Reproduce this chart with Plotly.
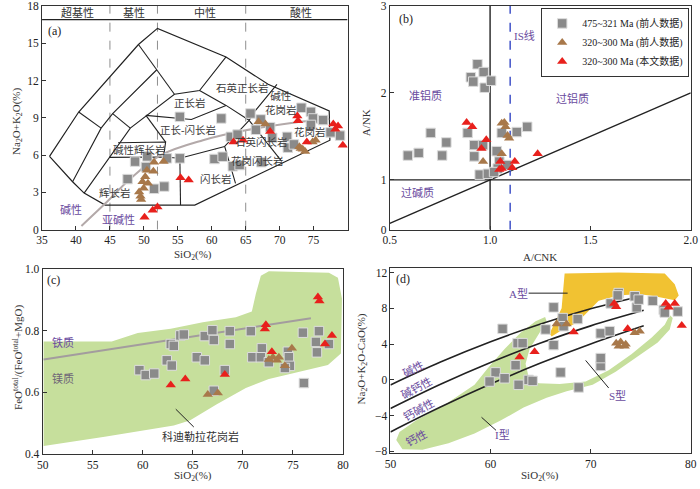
import plotly.graph_objects as go

SERIF = "Liberation Serif, 'Noto Sans CJK SC', serif"
PURPLE = "#6a4b9e"
GRAY_M = "#8a8a8a"
BROWN = "#a8784a"
RED = "#e8201c"

# ---------------- Panel (a) TAS data ----------------
a_sq_x = [48.7, 47.6, 50.5, 50.3, 51.5, 53.0, 53.4, 55.3, 55.3, 61.4, 60.4, 61.6, 63.1, 64.1, 62.8, 63.8,
          65.7, 66.5, 67.2, 68.6, 68.9, 71.1, 71.2, 72.1, 67.3, 73.2, 74.6, 74.9, 74.6, 76.4, 77.5, 78.9]
a_sq_y = [5.48, 4.07, 5.90, 5.04, 3.29, 3.47, 5.74, 5.74, 9.08, 8.95, 5.69, 5.87, 5.10, 5.20, 7.47, 7.65,
          9.35, 8.04, 8.87, 8.25, 7.39, 7.47, 6.60, 6.86, 5.43, 9.81, 9.48, 8.95, 8.43, 8.82, 7.83, 7.57]
a_bt_x = [51.5, 51.4, 50.45, 50.2, 49.8, 50.6, 49.97, 49.3, 49.5, 49.6, 52.9, 66.9, 67.9, 72.9, 73.4, 73.75, 74.85, 75.3, 73.1]
a_bt_y = [5.43, 4.70, 4.78, 4.26, 3.86, 3.73, 3.34, 3.03, 2.69, 2.43, 5.48, 8.69, 8.50, 6.68, 6.47, 6.29, 7.05, 7.20, 6.53]
a_rt_x = [50.1, 51.3, 52.0, 55.4, 56.6, 63.2, 64.6, 68.6, 72.6, 72.7, 74.0, 77.9, 78.2, 78.6, 79.3]
a_rt_y = [0.99, 1.57, 1.83, 4.18, 3.99, 7.05, 7.20, 7.91, 9.14, 8.77, 7.05, 8.51, 8.09, 8.35, 6.79]

# TAS field boundaries
tas_outer_x = [36.1, 40.4, 49.2, 52.0, 62.1, 68.3, 77.3, 77.4, 57.5, 44.3, 41.2, 39.5, 36.1]
tas_outer_y = [5.9, 9.47, 14.9, 16.2, 13.9, 11.7, 9.55, 7.2, 1.98, 1.98, 2.94, 3.86, 5.9]
tas_inner = [
    [(40.4, 9.47), (43.7, 8.17)],
    [(39.5, 3.86), (43.7, 8.17), (45.4, 9.34), (51.9, 12.87)],
    [(45.4, 9.34), (48.0, 8.17)],
    [(49.2, 14.9), (51.9, 12.87), (54.5, 10.9)],
    [(41.2, 2.94), (44.9, 5.82), (48.0, 8.17), (54.5, 10.9), (58.2, 11.2), (62.1, 13.9)],
    [(50.3, 9.2), (57.0, 8.87), (62.1, 10.0)],
    [(58.2, 11.2), (62.1, 10.0), (65.5, 8.8)],
    [(69.6, 11.7), (66.3, 9.5), (65.5, 8.8), (61.9, 6.7), (63.5, 3.73)],
    [(65.5, 8.8), (70.3, 5.5)],
    [(44.9, 5.82), (52.9, 5.85), (55.3, 5.75), (61.9, 6.7)],
    [(55.4, 1.98), (55.3, 5.75)],
    [(46.2, 7.0), (53.2, 7.05), (52.9, 5.85)],
    [(53.2, 7.05), (50.3, 9.2)],
]
ir_x = [40.8, 44.3, 48.0, 52.5, 58.7, 65.0, 72.0, 77.3]
ir_y = [0.3, 2.1, 4.1, 6.0, 7.2, 8.0, 8.6, 8.9]
a_dash_x = [45, 52, 65]
a_header = [("超基性", 40.2), ("基性", 48.6), ("中性", 59.0), ("酸性", 73.2)]
a_fields = [("石英正长岩", 64.5, 11.4), ("碱性<br>花岗岩", 70.2, 10.2), ("正长岩", 56.8, 10.2),
            ("正长-闪长岩", 56.5, 8.0), ("碱性辉长岩", 49.3, 6.45), ("辉长岩", 45.8, 2.95),
            ("闪长岩", 60.6, 4.1), ("花岗岩", 74.4, 7.9), ("石英闪长岩", 67.3, 7.05), ("花岗闪长岩", 66.8, 5.5)]

# ---------------- Panel (b) A/NK vs A/CNK ----------------
b_sq_x = [0.59, 0.644, 0.704, 0.761, 0.782, 0.888, 0.921, 0.921, 0.937, 0.904, 0.916, 0.968, 0.973, 1.005,
          0.948, 0.989, 1.033, 1.058, 1.046, 1.084, 1.133, 1.185, 0.965, 1.038, 1.02]
b_sq_y = [1.28, 1.31, 1.54, 1.28, 1.43, 1.54, 1.40, 1.27, 2.33, 2.18, 2.13, 2.24, 2.06, 2.14,
          1.06, 1.07, 1.33, 1.54, 1.21, 1.17, 1.55, 1.61, 1.40, 1.13, 1.09]
b_bt_x = [1.058, 1.071, 1.077, 1.087, 1.095, 0.965, 1.058]
b_bt_y = [1.65, 1.66, 1.61, 1.51, 1.48, 1.21, 1.30]
b_rt_x = [0.883, 0.911, 0.981, 0.957, 1.051, 1.058, 1.046, 1.110, 1.123, 1.237]
b_rt_y = [1.66, 1.61, 1.46, 1.36, 1.21, 1.13, 1.12, 1.14, 1.21, 1.30]
b_diag = [0.5, 2.0]

# ---------------- Panel (c) Fe-number ----------------
c_field_x = [50.1, 56.2, 63.1, 64.7, 67.4, 70.3, 72.6, 75.9, 78.5, 79.8, 79.9, 79.5, 78.6, 72.6, 71.8, 71.3,
             70.9, 69.3, 66.0, 62.8, 59.5, 56.9, 50.1, 50.1]
c_field_y = [0.425, 0.455, 0.492, 0.508, 0.561, 0.614, 0.643, 0.668, 0.689, 0.726, 0.905, 0.973, 0.989, 0.994,
             0.979, 0.921, 0.863, 0.844, 0.828, 0.807, 0.793, 0.765, 0.765, 0.425]
c_trend_x = [50.1, 76.8]
c_trend_y = [0.707, 0.841]
c_sq_x = [59.67, 60.3, 61.15, 62.4, 62.8, 62.9, 63.1, 63.76, 64.1, 65.4, 66.2, 66.2, 66.96, 67.1, 67.1, 68.2,
          68.7, 68.7, 70.8, 70.95, 71.9, 71.8, 72.6, 74.5, 74.6, 74.7, 74.2, 76.0, 76.1, 77.3, 77.4, 77.6, 78.6]
c_sq_y = [0.672, 0.656, 0.661, 0.704, 0.757, 0.687, 0.751, 0.785, 0.788, 0.714, 0.704, 0.783, 0.802, 0.770, 0.605, 0.672,
          0.799, 0.757, 0.799, 0.714, 0.743, 0.714, 0.698, 0.732, 0.714, 0.686, 0.679, 0.794, 0.630, 0.764, 0.730, 0.799, 0.757]
c_bt_x = [66.5, 67.5, 72.6, 73.0, 73.4, 73.6, 74.2, 74.9]
c_bt_y = [0.593, 0.598, 0.707, 0.714, 0.704, 0.714, 0.686, 0.743]
c_rt_x = [62.8, 64.25, 68.2, 72.2, 72.3, 72.9, 77.5, 77.65, 78.2, 78.9]
c_rt_y = [0.624, 0.643, 0.658, 0.806, 0.820, 0.732, 0.910, 0.897, 0.757, 0.785]

# ---------------- Panel (d) MALI ----------------
d_A_x = [67.4, 72.8, 77.4, 78.4, 78.8, 78.4, 76.4, 74.8, 72.8, 70.8, 69.4, 68.55, 67.1, 66.1, 65.9, 66.4, 67.1, 67.25, 67.4]
d_A_y = [11.89, 12.0, 11.9, 10.7, 9.45, 8.9, 9.35, 9.6, 9.45, 8.84, 7.27, 6.36, 5.56, 4.84, 5.2, 6.36, 8.0, 10.0, 11.89]
d_I_x = [50.58, 50.9, 52.55, 55.5, 58.4, 59.7, 61.4, 63.0, 64.5, 65.45, 65.6, 64.8, 63.9, 63.5, 63.8, 64.8, 66.9,
         69.5, 71.8, 74.1, 76.1, 77.4, 77.9, 78.2, 77.9, 76.7, 74.8, 72.5, 70.2, 67.6, 65.6, 63.3, 61.0, 58.4,
         55.8, 53.2, 51.2, 50.58]
d_I_y = [-6.73, -5.82, -4.55, -2.73, -0.55, 1.27, 3.45, 5.27, 6.55, 7.02, 6.55, 5.09, 3.45, 1.82, 0.36, -0.36, -0.47,
         -0.18, 1.09, 2.91, 4.73, 6.18, 7.27, 6.91, 5.64, 4.18, 2.73, 0.91, -0.55, -1.27, -2.0, -3.09, -4.55, -6.0,
         -7.09, -7.82, -7.75, -6.73]
d_line_x = [50, 55, 60, 65, 70, 75.3]
d_line1_y = [-0.56, 2.0, 4.27, 6.25, 7.95, 9.44]
d_line2_y = [-3.2, -0.49, 1.95, 4.12, 6.04, 7.78]
d_line3_y = [-5.82, -3.04, -0.47, 1.88, 4.02, 6.05]
d_sq_x = [61.2, 62.7, 63.2, 65.5, 66.3, 66.3, 67.2, 67.3, 68.7, 67.0, 60.5, 59.9, 61.4, 62.8, 63.8, 64.2, 62.5, 68.8,
          71.0, 71.0, 71.0, 71.9, 72.0, 72.8, 74.4, 74.6, 74.8, 76.2, 77.3, 77.4, 78.7, 72.7]
d_sq_y = [5.71, 4.11, 4.11, 5.64, 8.11, 3.89, 6.91, 6.0, 6.8, 0.84, 0.84, -0.18, 0.18, -0.55, 0.0, -0.11, 1.64, -0.84,
          1.56, 2.44, 5.2, 5.45, 8.55, 9.71, 9.35, 8.11, 8.98, 8.84, 7.82, 7.53, 7.64, 9.45]
d_bt_x = [66.6, 67.6, 72.55, 73.0, 72.8, 73.4, 73.5, 74.4, 74.9]
d_bt_y = [6.25, 6.25, 4.11, 4.25, 3.75, 3.75, 4.0, 5.27, 5.45]
d_rt_x = [62.9, 64.4, 68.3, 72.35, 72.55, 73.7, 77.5, 77.8, 78.4, 79.1]
d_rt_y = [2.55, 3.16, 5.35, 8.55, 8.18, 5.71, 8.55, 8.11, 8.55, 6.07]
d_series = [("碱性", 52.3, 1.3), ("碱钙性", 52.6, -0.9), ("钙碱性", 52.8, -3.3), ("钙性", 52.6, -6.4)]

LEG = ["475~321 Ma (前人数据)", "320~300 Ma (前人数据)", "320~300 Ma (本文数据)"]

fig = go.Figure()


def seg_xy(segs):
    xs, ys = [], []
    for s in segs:
        for p in s:
            xs.append(p[0]); ys.append(p[1])
        xs.append(None); ys.append(None)
    return xs, ys


def line(x, y, ax, color="#222", width=1.2, dash="solid", shape="linear"):
    fig.add_trace(go.Scatter(x=x, y=y, mode="lines", xaxis="x" + ax, yaxis="y" + ax, showlegend=False,
                             hoverinfo="skip", line=dict(color=color, width=width, dash=dash, shape=shape)))


def fill(x, y, ax, color):
    fig.add_trace(go.Scatter(x=x, y=y, mode="lines", fill="toself", fillcolor=color, xaxis="x" + ax,
                             yaxis="y" + ax, showlegend=False, hoverinfo="skip", line=dict(width=0, color=color)))


def markers(sx, sy, bx, by, rx, ry, ax, legend=False):
    fig.add_trace(go.Scatter(x=sx, y=sy, mode="markers", xaxis="x" + ax, yaxis="y" + ax, name=LEG[0],
                             showlegend=legend, marker=dict(symbol="square", size=9.5, color=GRAY_M,
                                                            line=dict(color="#dcdcdc", width=1))))
    fig.add_trace(go.Scatter(x=bx, y=by, mode="markers", xaxis="x" + ax, yaxis="y" + ax, name=LEG[1],
                             showlegend=legend, marker=dict(symbol="triangle-up", size=9, color=BROWN)))
    fig.add_trace(go.Scatter(x=rx, y=ry, mode="markers", xaxis="x" + ax, yaxis="y" + ax, name=LEG[2],
                             showlegend=legend, marker=dict(symbol="triangle-up", size=9, color=RED)))


# ---- panel a ----
for dx in a_dash_x:
    line([dx, dx], [0, 18], "", color="#8f8f8f", width=1, dash="dash")
line([35, 80], [16.9, 16.9], "", color="#222", width=1.2)
line(tas_outer_x, tas_outer_y, "", width=1.2)
sx, sy = seg_xy(tas_inner)
line(sx, sy, "", width=1.1)
line(ir_x, ir_y, "", color="#b3a9a9", width=2, shape="spline")
markers(a_sq_x, a_sq_y, a_bt_x, a_bt_y, a_rt_x, a_rt_y, "")

# ---- panel b ----
line([1.0, 1.0], [0.427, 3.05], "2", width=1.4)
line([0.5, 2.0], [1.0, 1.0], "2", width=1.4)
line(b_diag, b_diag, "2", width=1.4)
line([1.1, 1.1], [0.427, 3.05], "2", color="#3346c4", width=1.4, dash="dash")
markers(b_sq_x, b_sq_y, b_bt_x, b_bt_y, b_rt_x, b_rt_y, "2", legend=True)

# ---- panel c ----
fill(c_field_x, c_field_y, "3", "#c6df9c")
line(c_trend_x, c_trend_y, "3", color="#a39c9e", width=2)
line([63.3, 65.1], [0.545, 0.487], "3", width=1)
markers(c_sq_x, c_sq_y, c_bt_x, c_bt_y, c_rt_x, c_rt_y, "3")

# ---- panel d ----
fill(d_I_x, d_I_y, "4", "#c6df9c")
fill(d_A_x, d_A_y, "4", "#f1c232")
line(d_line_x, d_line1_y, "4", width=1.6, shape="spline")
line(d_line_x, d_line2_y, "4", width=1.6, shape="spline")
line(d_line_x, d_line3_y, "4", width=1.6, shape="spline")
line([63.8, 67.7], [9.7, 9.7], "4", width=1)
line([69.5, 71.8], [2.18, -0.9], "4", width=1)
line([59.1, 60.55], [-4.18, -5.64], "4", width=1)
markers(d_sq_x, d_sq_y, d_bt_x, d_bt_y, d_rt_x, d_rt_y, "4")

ann = []


def txt(t, x, y, ax, size=11, color="#333", angle=0, ref="data"):
    d = dict(text=t, x=x, y=y, showarrow=False, textangle=angle, xanchor="center", yanchor="middle",
             font=dict(family=SERIF, size=size, color=color))
    if ref == "data":
        d["xref"] = "x" + ax
        d["yref"] = "y" + ax
    else:
        d["xref"] = "paper"
        d["yref"] = "paper"
    ann.append(d)


for t, x in a_header:
    txt(t, x, 17.45, "", size=11, color="#333")
for t, x, y in a_fields:
    txt(t, x, y, "", size=10.5, color="#3a3a3a")
txt("碱性", 39.2, 1.65, "", size=11, color=PURPLE)
txt("亚碱性", 46.2, 0.85, "", size=11, color=PURPLE)
txt("(a)", 36.9, 16.0, "", size=12, color="#222")

txt("IS线", 1.17, 2.66, "2", size=11, color=PURPLE)
txt("准铝质", 0.68, 1.97, "2", size=11, color=PURPLE)
txt("过铝质", 1.41, 1.94, "2", size=11, color=PURPLE)
txt("过碱质", 0.64, 0.85, "2", size=11, color=PURPLE)
txt("(b)", 0.58, 2.85, "2", size=12, color="#222")

txt("铁质", 52.0, 0.762, "3", size=11, color=PURPLE)
txt("镁质", 52.0, 0.645, "3", size=11, color="#6f6677")
txt("科迪勒拉花岗岩", 65.8, 0.455, "3", size=11, color="#333")
txt("(c)", 51.1, 0.965, "3", size=12, color="#222")

for t, x, y in d_series:
    txt(t, x, y, "4", size=11, color=PURPLE, angle=-28)
txt("A型", 62.8, 9.7, "4", size=11, color=PURPLE)
txt("S型", 72.7, -1.7, "4", size=11, color=PURPLE)
txt("I型", 61.2, -6.1, "4", size=11, color=PURPLE)
txt("(d)", 51.3, 11.3, "4", size=12, color="#222")

# axis titles (paper)
W, H = 700.0, 489.0
def ptxt(t, px, py, angle=0, size=11):
    txt(t, px / W, 1 - py / H, "", size=size, color="#333", angle=angle, ref="paper")

ptxt("SiO<sub>2</sub>(%)", 190, 255)
ptxt("A/CNK", 543, 257)
ptxt("SiO<sub>2</sub>(%)", 190, 482)
ptxt("SiO<sub>2</sub>(%)", 543, 482)
ptxt("Na<sub>2</sub>O+K<sub>2</sub>O(%)", 10, 118, angle=-90)
ptxt("A/NK", 366, 120, angle=-90)
ptxt("FeO<sup>total</sup>/(FeO<sup>total</sup>+MgO)", 11, 360, angle=-90)
ptxt("Na<sub>2</sub>O+K<sub>2</sub>O-CaO(%)", 362, 362, angle=-90)

axis_common = dict(showline=True, linecolor="#333", linewidth=1, mirror=True, ticks="inside", ticklen=4,
                   tickcolor="#333", showgrid=False, zeroline=False,
                   tickfont=dict(family=SERIF, size=11.5, color="#222"))


def px_dom(a, b, total):
    return [a / total, b / total]


fig.update_layout(
    width=700, height=489, margin=dict(l=0, r=0, t=0, b=0),
    paper_bgcolor="white", plot_bgcolor="white", annotations=ann,
    xaxis=dict(domain=px_dom(35.7, 347, W), range=[35, 80], tickvals=[35, 40, 45, 50, 55, 60, 65, 70, 75], anchor="y", **axis_common),
    yaxis=dict(domain=[1 - 229.3 / H, 1.0], range=[0, 18], tickvals=[0, 3, 6, 9, 12, 15, 18], anchor="x", **axis_common),
    xaxis2=dict(domain=px_dom(390, 696.7, W), range=[0.5, 2.0], tickvals=[0.5, 1.0, 1.5, 2.0],
                ticktext=["0.5", "1.0", "1.5", "2.0"], anchor="y2", **axis_common),
    yaxis2=dict(domain=[1 - 229.3 / H, 1.0], range=[0.427, 3.0], tickvals=[0.427, 1, 2, 3],
                ticktext=["0", "1", "2", "3"], anchor="x2", **axis_common),
    xaxis3=dict(domain=px_dom(36.3, 342.3, W), range=[50, 80], tickvals=[50, 55, 60, 65, 70, 75, 80], anchor="y3", **axis_common),
    yaxis3=dict(domain=[1 - 459 / H, 1 - 270 / H], range=[0.4, 1.0], tickvals=[0.4, 0.6, 0.8, 1.0],
                ticktext=["0.4", "0.6", "0.8", "1.0"], anchor="x3", **axis_common),
    xaxis4=dict(domain=px_dom(390.7, 696.7, W), range=[50, 80], tickvals=[50, 60, 70, 80], anchor="y4", **axis_common),
    yaxis4=dict(domain=[1 - 458.5 / H, 1 - 268.7 / H], range=[-8.2, 12.5], tickvals=[-8, -4, 0, 4, 8, 12], anchor="x4", **axis_common),
    legend=dict(x=0.993, xanchor="right", y=0.996, yanchor="top", bgcolor="white", bordercolor="#333",
                borderwidth=1, font=dict(family=SERIF, size=10, color="#222"), tracegroupgap=0,
                itemwidth=30),
)

fig.write_html("out.html", config={"displayModeBar": False},
               post_script="document.body.style.margin='0px';document.body.style.overflow='hidden';")
